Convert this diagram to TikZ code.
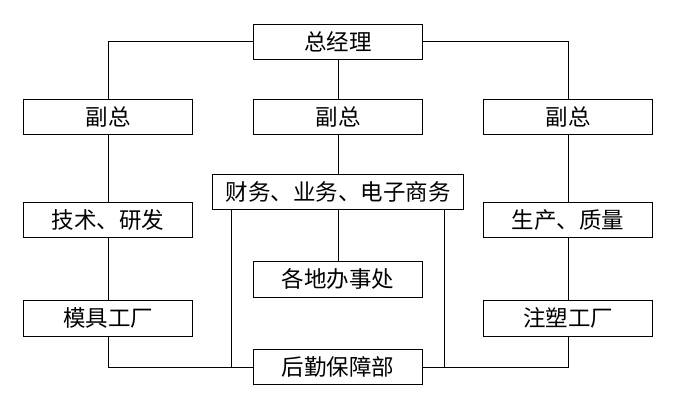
\documentclass[tikz,border=0pt]{standalone}
\usepackage{fontspec}
\newfontfamily\cjk{Noto Sans CJK SC}
\begin{document}
\begin{tikzpicture}[x=1pt,y=-1pt,
  box/.style={draw,line width=1pt,rectangle,inner sep=0pt,font=\cjk\fontsize{22.5}{26}\selectfont},
  wire/.style={line width=1pt}]
\useasboundingbox (0,0) rectangle (677,408);
\fill[white] (0,0) rectangle (677,408);
\node[box,minimum width=169pt,minimum height=35pt] (ceo) at (338,41.8) {总经理};
\node[box,minimum width=169pt,minimum height=35pt] (vl) at (108,116.8) {副总};
\node[box,minimum width=169pt,minimum height=35pt] (vm) at (338,116.8) {副总};
\node[box,minimum width=169pt,minimum height=35pt] (vr) at (568,116.8) {副总};
\node[box,minimum width=251pt,minimum height=35pt] (fin) at (338,191.7) {财务、业务、电子商务};
\node[box,minimum width=169pt,minimum height=35pt] (tech) at (108,219.8) {技术、研发};
\node[box,minimum width=169pt,minimum height=35pt] (prod) at (568,219.8) {生产、质量};
\node[box,minimum width=169pt,minimum height=36pt] (office) at (338,279.3) {各地办事处};
\node[box,minimum width=169pt,minimum height=36pt] (mold) at (108,318.3) {模具工厂};
\node[box,minimum width=169pt,minimum height=36pt] (inj) at (568,318.3) {注塑工厂};
\node[box,minimum width=169pt,minimum height=35pt] (log) at (338,367) {后勤保障部};
\draw[wire] (ceo.west) -| (vl.north);
\draw[wire] (ceo.east) -| (vr.north);
\draw[wire] (ceo) -- (vm);
\draw[wire] (vm) -- (fin);
\draw[wire] (fin) -- (office);
\draw[wire] (vl) -- (tech);
\draw[wire] (tech) -- (mold);
\draw[wire] (vr) -- (prod);
\draw[wire] (prod) -- (inj);
\draw[wire] (mold.south) |- (log.west);
\draw[wire] (inj.south) |- (log.east);
\draw[wire] (fin.south -| 231.7,0) -- (231.7,367);
\draw[wire] (fin.south -| 444.3,0) -- (444.3,367);
\end{tikzpicture}
\end{document}
